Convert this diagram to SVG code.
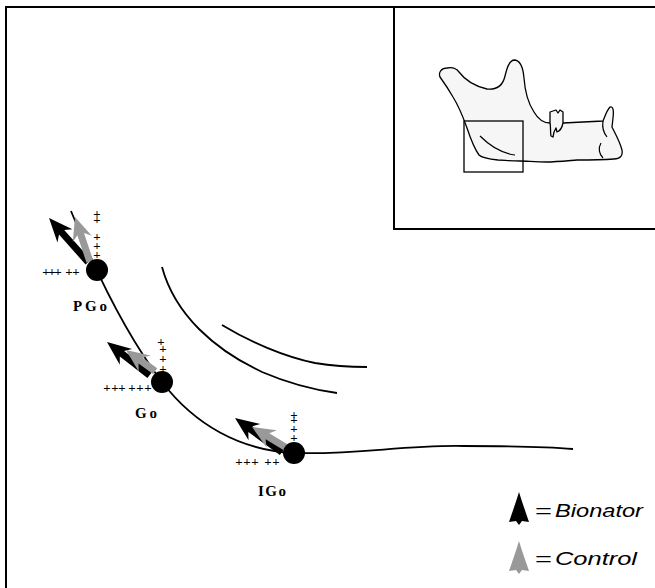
<svg xmlns="http://www.w3.org/2000/svg" width="655" height="588" viewBox="0 0 655 588">
  <style>
    .frame { fill: none; stroke: #000; stroke-width: 2; }
    .curve { fill: none; stroke: #000; stroke-width: 1.8; }
    .bone { fill: #f6f6f6; stroke: #000; stroke-width: 1.3; stroke-linejoin: round; }
    .thin { fill: none; stroke: #000; stroke-width: 1.2; }
    .plus { font-family: "Liberation Serif", serif; font-weight: bold; font-size: 13px; fill: #000; text-anchor: middle; }
    .lbl { font-family: "Liberation Serif", serif; font-weight: bold; font-size: 15px; fill: #000; }
    .leg { font-family: "Liberation Sans", Arial, sans-serif; font-style: italic; font-size: 19px; fill: #000; }
    .blk { fill: #000; }
    .gry { fill: #999; }
  </style>

  <rect width="655" height="588" fill="#fff"/>

  <!-- outer frame (open to the right and bottom) -->
  <path class="frame" d="M6,588 V7 H655"/>

  <!-- inset panel -->
  <g id="inset">
    <path class="frame" d="M394,7 V229 H655"/>
    <path class="bone" d="M440,77 C438,72 442,68 447,68 C452,67 456,68 459,72 C465,80 474,86 487,89 C497,90 503,85 505,76 C507,68 509,61 514,60 C520,60 523,67 524,78 C525,92 528,103 534,112 C538,119 543,123 550,123 L563,123 L603,121 C605,116 607,110 610,107 C613,106 614,110 613,118 L612,127 C616,135 620,142 622,150 C623,156 620,159 614,159 C600,160 590,160 577,160 C565,161 555,162 547,162 C535,162 527,161 520,161 C510,161 503,160 498,160 C488,159 482,158 479,155 C474,148 471,140 467,128 C462,114 458,105 453,97 C449,90 445,84 440,77 Z"/>
    <!-- molar -->
    <path class="bone" d="M550,123 L550,112 L556,110 L558,113 L560,110 L563,112 L563,123 C562,128 560,131 557,132 L556,128 L554,132 L553,137 L551,136 C550,130 551,127 550,123 Z"/>
    <!-- incisor -->
    <path class="thin" d="M603,121 C602,127 603,132 607,137"/>
    <path class="thin" d="M601,143 C598,148 599,154 603,158"/>
    <!-- region box -->
    <rect class="thin" x="464" y="121" width="59" height="51" style="stroke-width:1.3"/>
    <path class="thin" d="M480,136 C490,146 500,153 515,155"/>
  </g>

  <!-- connectors: outline curves -->
  <g id="connectors">
    <path class="curve" d="M71,211 Q115,320 162,382 C195,425 240,450 293,453 C360,455 400,445 463,446 C510,446 550,447 573,449"/>
    <path class="curve" d="M162,267 C175,315 215,350 262,372 C290,384 315,390 337,393"/>
    <path class="curve" d="M222,325 C250,342 285,357 315,363 C333,366 350,367 367,367"/>
  </g>

  <!-- PGo -->
  <g id="node-pgo">
    <g transform="translate(49,218) rotate(48.4)"><path class="blk" d="M0,0 L24,-10 L19,-3.5 L59,-3.5 L59,3.5 L19,3.5 L24,10 Z"/></g>
    <g transform="translate(75,217) rotate(71.6)"><path class="gry" d="M0,0 L23,-10 L18,-3.5 L47,-3.5 L47,3.5 L18,3.5 L23,10 Z"/></g>
    <circle cx="97" cy="270" r="11" class="blk"/>
    <text class="plus" x="97 97 97 97 97" y="218 224 241 250 259">+++++</text>
    <text class="plus" x="46 52 58 69 76" y="276">+++++</text>
    <text class="lbl" x="73" y="311" textLength="34" lengthAdjust="spacing">PGo</text>
  </g>

  <!-- Go -->
  <g id="node-go">
    <g transform="translate(107,342) rotate(38)"><path class="blk" d="M0,0 L24,-10 L19,-3.5 L54,-3.5 L54,3.5 L19,3.5 L24,10 Z"/></g>
    <g transform="translate(126,350) rotate(36)"><path class="gry" d="M0,0 L23,-10 L18,-3.5 L36,-3.5 L36,3.5 L18,3.5 L23,10 Z"/></g>
    <circle cx="162" cy="382" r="11" class="blk"/>
    <text class="plus" x="161 163 163 163" y="346 353 363 373">++++</text>
    <text class="plus" x="107 115 122 132 140 148" y="392">++++++</text>
    <text class="lbl" x="135" y="418" textLength="22" lengthAdjust="spacing">Go</text>
  </g>

  <!-- IGo -->
  <g id="node-igo">
    <g transform="translate(235,418) rotate(36)"><path class="blk" d="M0,0 L24,-10 L19,-3.5 L58,-3.5 L58,3.5 L19,3.5 L24,10 Z"/></g>
    <g transform="translate(252,427) rotate(31)"><path class="gry" d="M0,0 L23,-10 L18,-3.5 L44,-3.5 L44,3.5 L18,3.5 L23,10 Z"/></g>
    <circle cx="294" cy="453" r="11" class="blk"/>
    <text class="plus" x="294 294 294 294" y="419 424 433 442">++++</text>
    <text class="plus" x="239 247 255 268 276" y="466">+++++</text>
    <text class="lbl" x="258" y="496" textLength="28" lengthAdjust="spacing">IGo</text>
  </g>

  <!-- legend -->
  <g id="legend">
    <path class="blk" d="M519,492 C522,502 526,513 529,522 L522,521 L519,525 L516,521 L509,522 C512,513 516,502 519,492 Z"/>
    <text class="leg" x="535" y="517" textLength="17" lengthAdjust="spacingAndGlyphs" style="font-style:normal">=</text>
    <text class="leg" x="555" y="517" textLength="88" lengthAdjust="spacingAndGlyphs">Bionator</text>
    <path class="gry" d="M519,541 C522,551 526,562 529,571 L522,570 L519,574 L516,570 L509,571 C512,562 516,551 519,541 Z"/>
    <text class="leg" x="535" y="565" textLength="17" lengthAdjust="spacingAndGlyphs" style="font-style:normal">=</text>
    <text class="leg" x="555" y="565" textLength="82" lengthAdjust="spacingAndGlyphs">Control</text>
  </g>
</svg>
